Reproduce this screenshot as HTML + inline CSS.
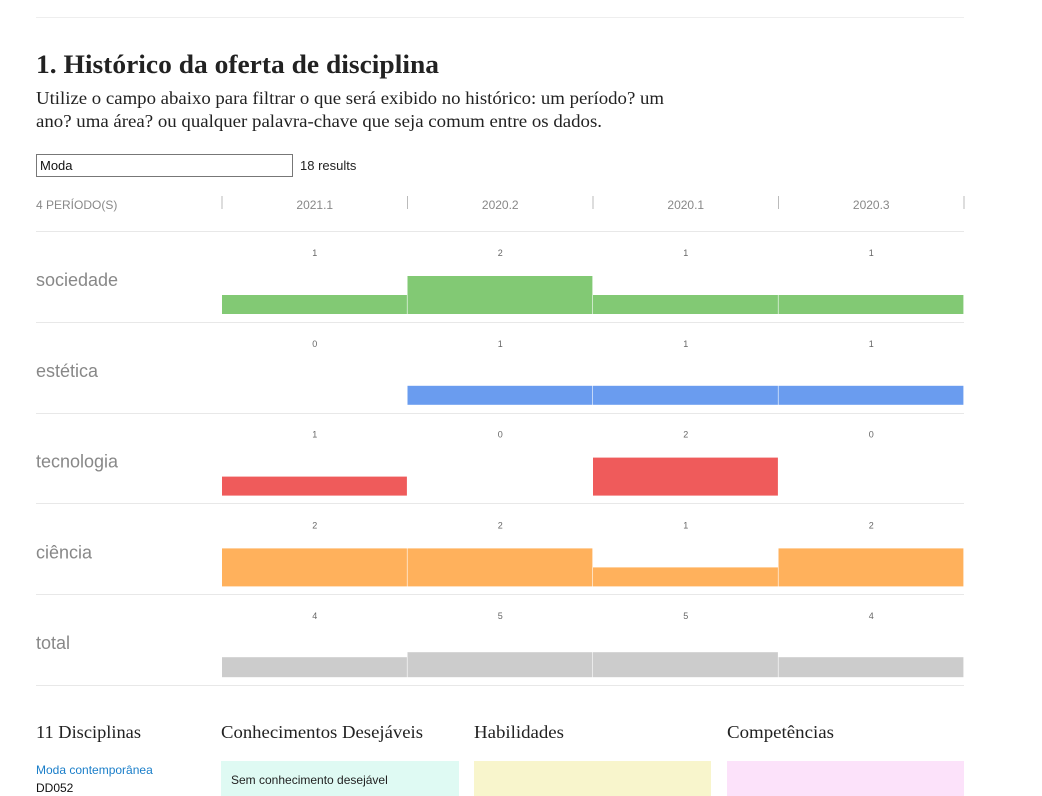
<!DOCTYPE html>
<html><head><meta charset="utf-8"><style>
body{margin:0;background:#fff;width:1042px;height:796px;overflow:hidden}
svg{display:block}
.serif{font-family:"Liberation Serif",serif}
.sans{font-family:"Liberation Sans",sans-serif}
</style></head><body>
<svg id="chart" width="1042" height="796">
<line x1="36" y1="17.5" x2="964" y2="17.5" stroke="#eee"/>
<text class="serif" x="36" y="73" font-size="26" font-weight="bold" fill="#222" textLength="403" lengthAdjust="spacingAndGlyphs">1. Histórico da oferta de disciplina</text>
<text class="serif" x="36" y="104" font-size="18" fill="#222" textLength="628" lengthAdjust="spacingAndGlyphs">Utilize o campo abaixo para filtrar o que será exibido no histórico: um período? um</text>
<text class="serif" x="36" y="127" font-size="18" fill="#222" textLength="566" lengthAdjust="spacingAndGlyphs">ano? uma área? ou qualquer palavra-chave que seja comum entre os dados.</text>
<rect x="36.5" y="154.5" width="256" height="22" fill="#fff" stroke="#777"/>
<text class="sans" x="40" y="170" font-size="13" fill="#111">Moda</text>
<text class="sans" x="300" y="170" font-size="13" fill="#222">18 results</text>
<text class="sans" x="36" y="209" font-size="12" fill="#888">4 PERÍODO(S)</text>
<g id="grid"></g>
<text class="serif" x="36" y="738" font-size="18" fill="#222" textLength="105" lengthAdjust="spacingAndGlyphs">11 Disciplinas</text>
<text class="serif" x="221" y="738" font-size="18" fill="#222" textLength="202" lengthAdjust="spacingAndGlyphs">Conhecimentos Desejáveis</text>
<text class="serif" x="474" y="738" font-size="18" fill="#222" textLength="90" lengthAdjust="spacingAndGlyphs">Habilidades</text>
<text class="serif" x="727" y="738" font-size="18" fill="#222" textLength="107" lengthAdjust="spacingAndGlyphs">Competências</text>
<text class="sans" x="36" y="774" font-size="12" fill="#1a7ec9">Moda contemporânea</text>
<text class="sans" x="36" y="792" font-size="12" fill="#111">DD052</text>
<rect x="221" y="761" width="238" height="40" fill="#dffaf3"/>
<text class="sans" x="231" y="784" font-size="12" fill="#222">Sem conhecimento desejável</text>
<rect x="474" y="761" width="237" height="40" fill="#f8f5cc"/>
<rect x="727" y="761" width="237" height="40" fill="#fce2fa"/>
</svg>
<script>
const periods = ["2021.1","2020.2","2020.1","2020.3"];
const categories = ["sociedade","estética","tecnologia","ciência","total"];
const sociedade = [1,2,1,1];
const estetica = [0,1,1,1];
const tecnologia = [1,0,2,0];
const ciencia = [2,2,1,2];
const total = [4,5,5,4];
const series = [sociedade, estetica, tecnologia, ciencia, total];
const colors = ["#82c974","#6a9cef","#ef5b5b","#ffb15c","#cccccc"];
const NS = "http://www.w3.org/2000/svg";
const g = document.getElementById("grid");
const x0 = 222, x1 = 964, colW = (x1 - x0) / periods.length;
const rowTop0 = 231, rowH = 90.8;
function xPos(i){ return x0 + i*colW; }
function yScale(v, isTotal){ return v * (isTotal ? 5 : 19); }
function mk(tag, attrs){ const e = document.createElementNS(NS, tag); for (const k in attrs) e.setAttribute(k, attrs[k]); g.appendChild(e); return e; }
for (let i = 0; i <= periods.length; i++) {
  const t = mk("line", {x1: xPos(i), x2: xPos(i), y1: 196, y2: 209, stroke: "#bbb"});
  
  
}
periods.forEach((p, i) => {
  const t = mk("text", {x: xPos(i) + colW/2, y: 209, "font-size": 12, fill: "#888", "text-anchor": "middle", class: "sans"});
  t.textContent = p;
  
  
});
categories.forEach((c, r) => {
  const top = rowTop0 + r*rowH;
  const sep = mk("line", {x1: 36, x2: 964, y1: Math.round(top)+0.5, y2: Math.round(top)+0.5, stroke: "#e8e8e8"});
  
  
  const lab = mk("text", {x: 36, y: top + 55, "font-size": 18, fill: "#888", class: "sans"});
  lab.textContent = c;
  
  
  const base = top + 83;
  series[r].forEach((v, i) => {
    const h = yScale(v, c === "total");
    const b = mk("rect", {x: xPos(i), y: base - h, width: colW - 0.6, height: h, fill: colors[r]});
    
    
    const vl = mk("text", {x: xPos(i) + colW/2, y: top + 25, "font-size": 9, fill: "#666", "text-anchor": "middle", class: "sans"});
    vl.textContent = v;
    
    
  });
});
const last = mk("line", {x1: 36, x2: 964, y1: 685.5, y2: 685.5, stroke: "#e8e8e8"});


</script>
</body></html>
